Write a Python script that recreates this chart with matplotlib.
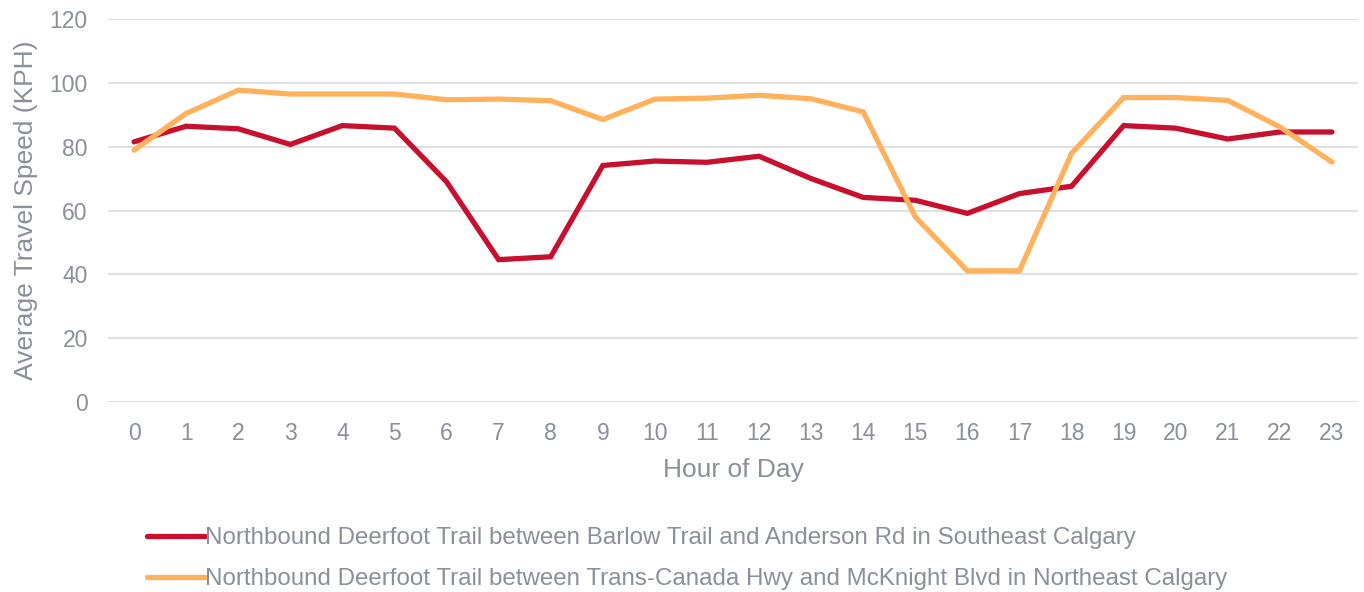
import matplotlib
matplotlib.use("Agg")
import matplotlib.pyplot as plt

plt.rcParams['font.family'] = ['Liberation Sans', 'DejaVu Sans']

hours = list(range(24))
hour_labels = [str(h) for h in hours]
southeast_speed = [81.5, 86.4, 85.6, 80.7, 86.6, 85.8, 69.0, 44.6, 45.5, 74.1,
                   75.5, 75.1, 77.0, 70.0, 64.1, 63.2, 59.1, 65.3, 67.6, 86.6,
                   85.8, 82.4, 84.6, 84.6]
northeast_speed = [78.9, 90.4, 97.7, 96.5, 96.5, 96.5, 94.7, 94.9, 94.4, 88.5,
                   94.9, 95.2, 96.1, 95.0, 90.9, 58.0, 41.1, 41.1, 77.9, 95.4,
                   95.4, 94.5, 86.2, 75.2]
series_names = [
    "Northbound Deerfoot Trail between Barlow Trail and Anderson Rd in Southeast Calgary",
    "Northbound Deerfoot Trail between Trans-Canada Hwy and McKnight Blvd in Northeast Calgary",
]
y_ticks = [0, 20, 40, 60, 80, 100, 120]

RED = "#C8102E"
ORANGE = "#FFB15C"
TEXT = "#8A9099"
GRID = "#E0E0E0"

fig = plt.figure(figsize=(13.64, 5.92), dpi=100)
ax = fig.add_axes([108 / 1364, 1 - 402 / 592, 1250 / 1364, 383 / 592])

l1, = ax.plot(hours, southeast_speed, color=RED, lw=3.8, solid_capstyle='round',
              solid_joinstyle='miter', zorder=3)
l2, = ax.plot(hours, northeast_speed, color=ORANGE, lw=3.8, solid_capstyle='round',
              solid_joinstyle='miter', zorder=3)

ax.set_xlim(-0.5, 23.5)
ax.set_ylim(0, 120)
ax.set_yticks(y_ticks)
ax.set_xticks(hours)
ax.set_xticklabels(hour_labels)
ax.grid(axis='y', color=GRID, lw=1.5, zorder=0)
ax.set_axisbelow(True)
for s in ax.spines.values():
    s.set_visible(False)
ax.tick_params(axis='both', length=0, labelsize=16.5, colors=TEXT)
ax.tick_params(axis='y', pad=14.5)
ax.tick_params(axis='x', pad=14.5)
ax.set_xlabel("Hour of Day", fontsize=19, color=TEXT, labelpad=9)
ax.set_ylabel("Average Travel Speed (KPH)", fontsize=19, color=TEXT, labelpad=8)

leg = fig.legend([l1, l2], series_names, loc='upper left',
                 bbox_to_anchor=(147 / 1364, 1 - 527 / 592), frameon=False,
                 fontsize=17.4, handlelength=2.4, handletextpad=0.0,
                 labelspacing=0.8, borderaxespad=0, borderpad=0)
for t in leg.get_texts():
    t.set_color(TEXT)

fig.savefig("out.png", dpi=100)
